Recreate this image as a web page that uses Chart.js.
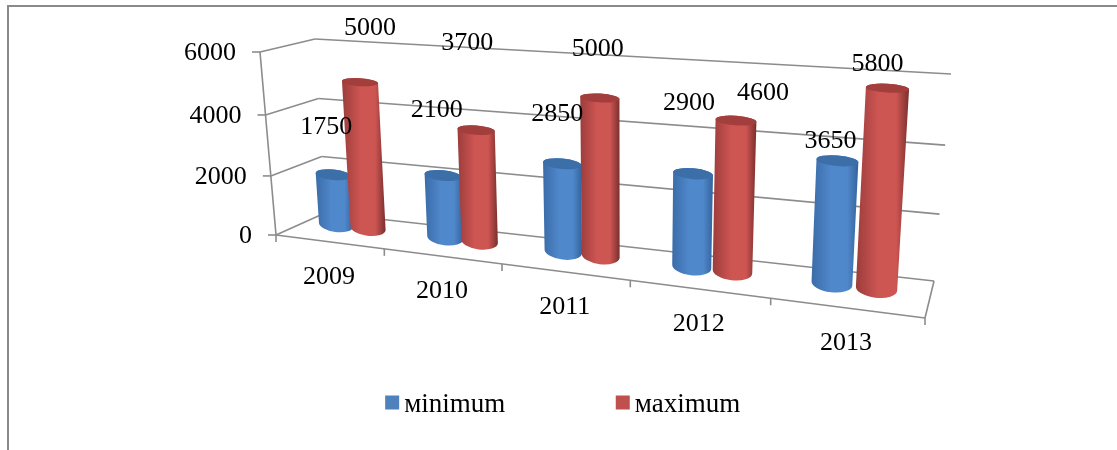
<!DOCTYPE html>
<html>
<head>
<meta charset="utf-8">
<style>
  html, body { margin: 0; padding: 0; background: #fff; overflow: hidden; }
  #frame { position: absolute; left: 7px; top: 5px; right: 0; bottom: 0; border-left: 2px solid #8a8a8a; border-top: 2px solid #8a8a8a; }
  canvas { position: absolute; left: 0; top: 0; }
</style>
<script src="https://cdn.jsdelivr.net/npm/chart.js@4/dist/chart.umd.min.js"></script>
</head>
<body>
<div id="frame"></div>
<canvas id="chart" width="1117" height="450"></canvas>
<script>
const years = ['2009', '2010', '2011', '2012', '2013'];
const minimum = [1750, 2100, 2850, 2900, 3650];
const maximum = [5000, 3700, 5000, 4600, 5800];
const yTicks = [0, 2000, 4000, 6000];

// where the value labels sit relative to their bar top, the source chart has them moved by hand
const minLabelNudge = [[-7, -48], [-6, -65], [-5, -50], [-4, -71], [-7, -20]];
const maxLabelNudge = [[10, -54], [-9, -87], [-2, -49], [27, -27], [-10, -24]];

const FONT = '26px "Liberation Serif"';

// corners of the 3D box on screen, order: bottom left, bottom right, top left, top right
const frontQuad = [[276, 235], [925, 318], [260, 52], [945, 92]];
const backQuad = [[325, 213], [934, 281], [315, 39], [951, 74]];
const barQuad = [[300, 220], [930, 295], [288, 48], [944, 84]];

// unit square to quad (perspective)
function makeProjection(q) {
  const [[x0, y0], [x1, y1], [x3, y3], [x2, y2]] = q;
  const dx1 = x1 - x2, dx2 = x3 - x2, sx = x0 - x1 + x2 - x3;
  const dy1 = y1 - y2, dy2 = y3 - y2, sy = y0 - y1 + y2 - y3;
  const den = dx1 * dy2 - dx2 * dy1;
  const g = (sx * dy2 - dx2 * sy) / den;
  const h = (dx1 * sy - sx * dy1) / den;
  const a = x1 - x0 + g * x1, b = x3 - x0 + h * x3;
  const d = y1 - y0 + g * y1, e = y3 - y0 + h * y3;
  return (u, v) => {
    const w = g * u + h * v + 1;
    return { x: (a * u + b * v + x0) / w, y: (d * u + e * v + y0) / w };
  };
}
const front = makeProjection(frontQuad);
const back = makeProjection(backQuad);
const barPlane = makeProjection(barQuad);

function line(ctx, a, b) {
  ctx.beginPath();
  ctx.moveTo(a.x, a.y);
  ctx.lineTo(b.x, b.y);
  ctx.stroke();
}

function drawBox(chart) {
  const ctx = chart.ctx, area = chart.chartArea, y = chart.scales.y;
  ctx.save();
  ctx.strokeStyle = '#8c8c8c';
  ctx.lineWidth = 1.6;
  ctx.fillStyle = '#000';
  ctx.font = FONT;
  ctx.textBaseline = 'middle';

  yTicks.forEach(t => {
    const v = (area.bottom - y.getPixelForValue(t)) / area.height;
    const f = front(0, v), b = back(0, v), r = back(1, v);
    line(ctx, { x: f.x - 8, y: f.y }, f);
    line(ctx, f, b);
    line(ctx, b, r);
    ctx.textAlign = 'right';
    ctx.fillText(String(t), f.x - 24, f.y + 1);
  });
  line(ctx, front(0, 0), front(0, 1));
  line(ctx, front(0, 0), front(1, 0));
  line(ctx, front(1, 0), back(1, 0));

  ctx.textAlign = 'center';
  for (let i = 0; i <= years.length; i++) {
    const p = front(i / years.length, 0);
    line(ctx, p, { x: p.x, y: p.y + 7 });
  }
  years.forEach((label, i) => {
    const p = front((i + 0.5) / years.length, 0);
    ctx.fillText(label, p.x, p.y + 35);
  });
  ctx.restore();
}

function drawCylinder(ctx, area, bar, shades) {
  const uc = (bar.x - area.left) / area.width;
  // far bars grow less in the source than the plane would make them
  const half = bar.width / 2 / area.width * (1 - 0.2 * uc);
  const top = (area.bottom - bar.y) / area.height;
  const bl = barPlane(uc - half, 0), br = barPlane(uc + half, 0), tl = barPlane(uc - half, top), tr = barPlane(uc + half, top);

  const cap = (a, b, ratio) => {
    const rx = Math.hypot(b.x - a.x, b.y - a.y) / 2;
    return { x: (a.x + b.x) / 2, y: (a.y + b.y) / 2, rx, ry: rx * ratio, rot: Math.atan2(b.y - a.y, b.x - a.x) };
  };
  const bottomCap = cap(bl, br, 0.44);
  const topCap = cap(tl, tr, 0.2 + 0.14 * (1 - top));

  const left = Math.min(bl.x, tl.x), right = Math.max(br.x, tr.x);
  const grad = ctx.createLinearGradient(left, 0, right, 0);
  grad.addColorStop(0, shades[0]);
  grad.addColorStop(0.42, shades[1]);
  grad.addColorStop(0.76, shades[1]);
  grad.addColorStop(1, shades[2]);

  ctx.beginPath();
  ctx.moveTo(tl.x, tl.y);
  ctx.lineTo(bl.x, bl.y);
  ctx.ellipse(bottomCap.x, bottomCap.y, bottomCap.rx, bottomCap.ry, bottomCap.rot, Math.PI, 0, true);
  ctx.lineTo(tr.x, tr.y);
  ctx.ellipse(topCap.x, topCap.y, topCap.rx, topCap.ry, topCap.rot, 0, Math.PI, true);
  ctx.closePath();
  ctx.fillStyle = grad;
  ctx.fill();

  ctx.beginPath();
  ctx.ellipse(topCap.x, topCap.y, topCap.rx, topCap.ry, topCap.rot, 0, Math.PI * 2);
  ctx.fillStyle = shades[3];
  ctx.fill();
  return { x: topCap.x, y: topCap.y };
}

const cylinderPlugin = {
  id: 'cylinders',
  beforeDatasetsDraw(chart) {
    const ctx = chart.ctx, area = chart.chartArea;
    drawBox(chart);
    const tops = [];
    chart.data.datasets.forEach((ds, di) => {
      chart.getDatasetMeta(di).data.forEach((el, i) => {
        const bar = el.getProps(['x', 'y', 'base', 'width'], true);
        const t = drawCylinder(ctx, area, bar, ds.shades);
        const nudge = ds.labelNudge[i];
        tops.push({ text: String(ds.data[i]), x: t.x + nudge[0], y: t.y + nudge[1] });
      });
    });
    ctx.save();
    ctx.fillStyle = '#000';
    ctx.font = FONT;
    ctx.textAlign = 'center';
    ctx.textBaseline = 'middle';
    tops.forEach(t => ctx.fillText(t.text, t.x, t.y));
    ctx.restore();
    return false;
  },
  // legend text gap is fixed to half the font size in Chart.js, the swatch here sits closer
  afterDraw(chart) {
    const ctx = chart.ctx;
    chart.legend.legendHitBoxes.forEach((box, i) => {
      ctx.fillStyle = chart.data.datasets[i].backgroundColor;
      ctx.fillRect(box.left - 1.5, box.top + box.height / 2 - 9, 14, 14);
    });
  }
};

new Chart(document.getElementById('chart'), {
  type: 'bar',
  data: {
    labels: years,
    datasets: [
      { label: 'мinimum', data: minimum, backgroundColor: '#4f81bd', labelNudge: minLabelNudge,
        shades: ['#3a6ca8', '#5088cc', '#34639c', '#3c6ea8'] },
      { label: 'мaximum', data: maximum, backgroundColor: '#c0504d', labelNudge: maxLabelNudge,
        shades: ['#9c3d3c', '#cd5552', '#7a2f2d', '#a23e3c'] }
    ]
  },
  options: {
    responsive: false,
    animation: false,
    categoryPercentage: 0.6,
    barPercentage: 1.12,
    layout: { padding: { left: 10, bottom: 22 } },
    scales: {
      x: { display: false },
      y: { display: false, min: 0, max: 6000 }
    },
    plugins: {
      tooltip: { enabled: false },
      legend: {
        position: 'bottom',
        labels: { boxWidth: 4, boxHeight: 4, padding: 112, color: '#000', font: { family: 'Liberation Serif', size: 27 } }
      }
    }
  },
  plugins: [cylinderPlugin]
});
</script>
</body>
</html>
